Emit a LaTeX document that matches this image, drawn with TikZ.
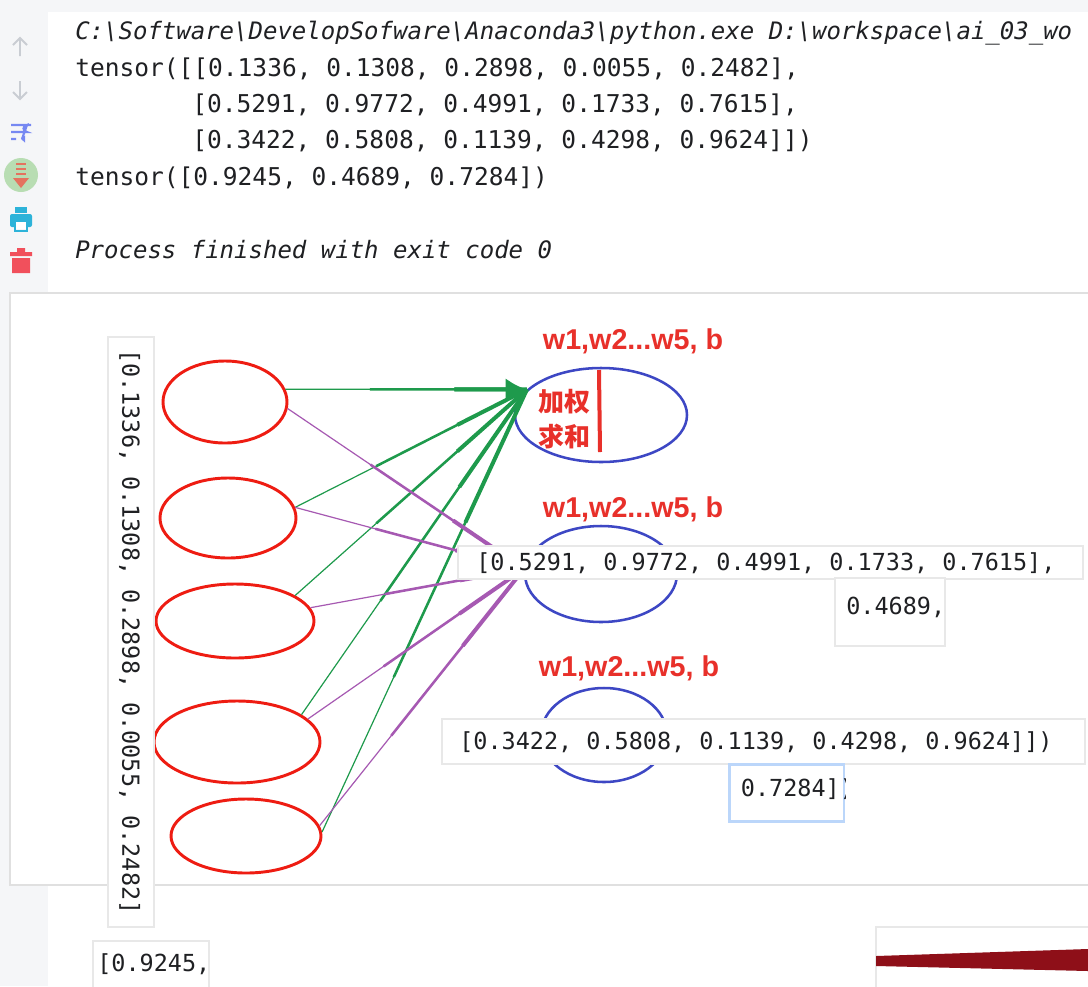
\documentclass[tikz,border=0pt]{standalone}
\usepackage{fontspec}
\setmonofont{DejaVu Sans Mono}[ItalicFont={DejaVu Sans Mono Oblique}]
\newfontfamily\labelfont{Liberation Sans}
\newfontfamily\cjk{Noto Sans CJK SC}
\usetikzlibrary{shapes.geometric, arrows.meta, positioning, calc}

\definecolor{gutter}{HTML}{F5F6F8}
\definecolor{consoletext}{HTML}{1F2023}
\definecolor{inred}{HTML}{EE1C12}
\definecolor{sumblue}{HTML}{3D47C4}
\definecolor{wgreen}{HTML}{1E9A4C}
\definecolor{wpurple}{HTML}{A659B2}
\definecolor{labred}{HTML}{E8302A}
\definecolor{icongray}{HTML}{C9CDD3}
\definecolor{iconblue}{HTML}{7688F2}
\definecolor{iconteal}{HTML}{2DB3D9}
\definecolor{iconred}{HTML}{F1505C}
\definecolor{scrollgreen}{HTML}{B8DDB3}
\definecolor{scrollred}{HTML}{E4735F}
\definecolor{darkband}{HTML}{8E0F18}
\definecolor{glowblue}{HTML}{BBD6FA}

\tikzset{
	inputnode/.style={ellipse, draw=inred, line width=2.2pt, fill=white, inner sep=0pt},
	sumnode/.style={ellipse, draw=sumblue, line width=1.9pt, inner sep=0pt},
	wlabel/.style={text=labred, font=\labelfont\bfseries\fontsize{21.5pt}{24pt}\selectfont, inner sep=0pt},
	consoleline/.style={anchor=west, inner sep=0pt, text=consoletext, text height=13pt, text depth=0pt, font=\fontsize{18.4pt}{22pt}\selectfont\ttfamily},
	cmdline/.style={consoleline, font=\fontsize{18pt}{22pt}\selectfont\ttfamily\itshape},
	tiptext/.style={anchor=west, inner sep=0pt, text=consoletext, text height=12.6pt, text depth=0pt, font=\fontsize{17.6pt}{21pt}\selectfont\ttfamily},
	tipbox/.style={rectangle, fill=white, draw=black!9, line width=1.3pt, anchor=north west, inner sep=0pt},
	gline/.style={draw=wgreen, line width=0.9pt},
	pline/.style={draw=wpurple, line width=0.9pt}
}

\begin{document}
\begin{tikzpicture}[x=0.75pt, y=-0.75pt]
	\useasboundingbox (0,0) rectangle (1088,986);
	\clip (0,0) rectangle (1088,986);

	% console background and gutter
	\fill[gutter] (0,0) rectangle (1088,986);
	\fill[white] (48,12) rectangle (1088,986);

	% gutter icons
	\draw[icongray, line width=1.4pt] (20,56) -- (20,38) (13,45) -- (20,38) -- (27,45);
	\draw[icongray, line width=1.4pt] (20,81) -- (20,99) (13,92) -- (20,99) -- (27,92);
	\draw[iconblue, line width=1.6pt] (11,125) -- (31,125) (11,132) -- (27,132) arc (-90:90:-3.5 and -3.5) -- (22,139) (11,139) -- (16,139);
	\fill[iconblue] (21,139) -- (25,135.5) -- (25,142.5) -- cycle;
	\fill[scrollgreen] (21,175) circle (12.75pt);
	\draw[scrollred, line width=1.5pt] (16,164) -- (26,164) (16,169) -- (26,169) (16,174) -- (26,174);
	\fill[scrollred] (13,178) -- (29,178) -- (21,188) -- cycle;
	\fill[iconteal] (15,207) rectangle (27,213);
	\fill[iconteal, rounded corners=1.5pt] (10,214) rectangle (32,227);
	\fill[white] (15,221) rectangle (27,229);
	\draw[iconteal, line width=1.4pt] (15,221) rectangle (27,231);
	\fill[iconred] (17,248) rectangle (25,252) (10,252) rectangle (32,256) (12,258) rectangle (30,273);

	% console output
	\node[cmdline] (cmd) at (75,31) {C:\textbackslash Software\textbackslash DevelopSofware\textbackslash Anaconda3\textbackslash python.exe D:\textbackslash workspace\textbackslash ai\_03\_wo};
	\node[consoleline] (wrow1) at (75,68) {tensor([[0.1336, 0.1308, 0.2898, 0.0055, 0.2482],};
	\node[consoleline] (wrow2) at (192,104) {[0.5291, 0.9772, 0.4991, 0.1733, 0.7615],};
	\node[consoleline] (wrow3) at (192,140) {[0.3422, 0.5808, 0.1139, 0.4298, 0.9624]])};
	\node[consoleline] (bias) at (75,177) {tensor([0.9245, 0.4689, 0.7284])};
	\node[cmdline] (done) at (75,250) {Process finished with exit code 0};

	% pasted sketch
	\draw[draw=black!12, line width=2pt, fill=white] (10,293) rectangle (1100,885);

	\node[inputnode, minimum width=93pt, minimum height=61.5pt] (in1) at (225,402) {};
	\node[inputnode, minimum width=102pt, minimum height=60pt] (in2) at (228,518) {};
	\node[inputnode, minimum width=118.5pt, minimum height=55.5pt] (in3) at (235,621) {};
	\node[inputnode, minimum width=124.5pt, minimum height=61.5pt] (in4) at (237,742) {};
	\node[inputnode, minimum width=112.5pt, minimum height=55.5pt] (in5) at (246,836) {};

	\node[sumnode, minimum width=129pt, minimum height=70.5pt] (sum1) at (601,415) {};
	\node[sumnode, minimum width=114pt, minimum height=72pt] (sum2) at (601,574) {};
	\node[sumnode, minimum width=94.5pt, minimum height=70.5pt] (sum3) at (604,735) {};

	% weights into the first neuron
	\foreach \i/\a in {1/12, 2/9, 3/23, 4/23, 5/3} {
		\draw[gline] (in\i.\a) -- coordinate[pos=0.35] (ga\i) coordinate[pos=0.7] (gb\i) (sum1.161);
		\draw[gline, line width=1.9pt] (ga\i) -- (sum1.161);
		\draw[gline, line width=3pt] (gb\i) -- (sum1.161);
	}
	\draw[gline, line width=3pt, -{Latex[length=16pt, width=17pt]}] (gb1) -- (sum1.161);

	% weights into the second neuron
	\foreach \i/\a in {1/-6, 2/9, 3/10, 4/18, 5/8} {
		\draw[pline] (in\i.\a) -- coordinate[pos=0.35] (pa\i) coordinate[pos=0.7] (pb\i) (sum2.176);
		\draw[pline, line width=1.9pt] (pa\i) -- (sum2.176);
		\draw[pline, line width=3pt] (pb\i) -- (sum2.176);
	}

	\draw[labred, line width=3pt] (599,370) -- (600,452);
	\node[text=labred, font=\cjk\bfseries\fontsize{19.5pt}{26.25pt}\selectfont, align=center, inner sep=0pt] (wsum) at (564,419.5) {加权\\求和};

	\node[wlabel] (lab1) at (633,341) {w1,w2...w5, b};
	\node[wlabel] (lab2) at (633,509) {w1,w2...w5, b};
	\node[wlabel] (lab3) at (629,668) {w1,w2...w5, b};

	% hover tips
	\node[tipbox, minimum width=34.5pt, minimum height=442.5pt] (strip) at (107,336) {};
	\node[tiptext, rotate=-90, anchor=center] (striptxt) at (strip.center) {[0.1336, 0.1308, 0.2898, 0.0055, 0.2482]};

	\node[tipbox, minimum width=468.75pt, minimum height=24.75pt] (tipA) at (457,545) {};
	\node[tiptext] (tipAtxt) at ([xshift=14.25pt]tipA.west) {[0.5291, 0.9772, 0.4991, 0.1733, 0.7615],};

	\node[tipbox, minimum width=82.5pt, minimum height=51pt] (tipB) at (834,577) {};
	\node[tiptext] (tipBtxt) at ([shift={(9pt,-21.75pt)}]tipB.north west) {0.4689,};

	\node[tipbox, minimum width=482.25pt, minimum height=33.75pt] (tipC) at (441,718) {};
	\node[tiptext] (tipCtxt) at ([xshift=13.5pt]tipC.west) {[0.3422, 0.5808, 0.1139, 0.4298, 0.9624]])};

	\node[tipbox, draw=glowblue, line width=2pt, minimum width=86pt, minimum height=42.75pt] (tipD) at (728,763) {};
	\begin{scope}
		\clip (tipD.south west) rectangle (tipD.north east);
		\node[tiptext] (tipDtxt) at ([shift={(9.5pt,-18.75pt)}]tipD.north west) {0.7284])};
	\end{scope}

	\node[tipbox, minimum width=87pt, minimum height=45pt] (tipE) at (92,940) {};
	\node[tiptext] (tipEtxt) at ([shift={(3.75pt,-17.25pt)}]tipE.north west) {[0.9245,};

	\node[tipbox, minimum width=165pt, minimum height=60pt] (tipF) at (875,926) {};
	\fill[darkband] (876,956) -- (1088,949) -- (1088,971) -- (876,966) -- cycle;
\end{tikzpicture}
\end{document}
